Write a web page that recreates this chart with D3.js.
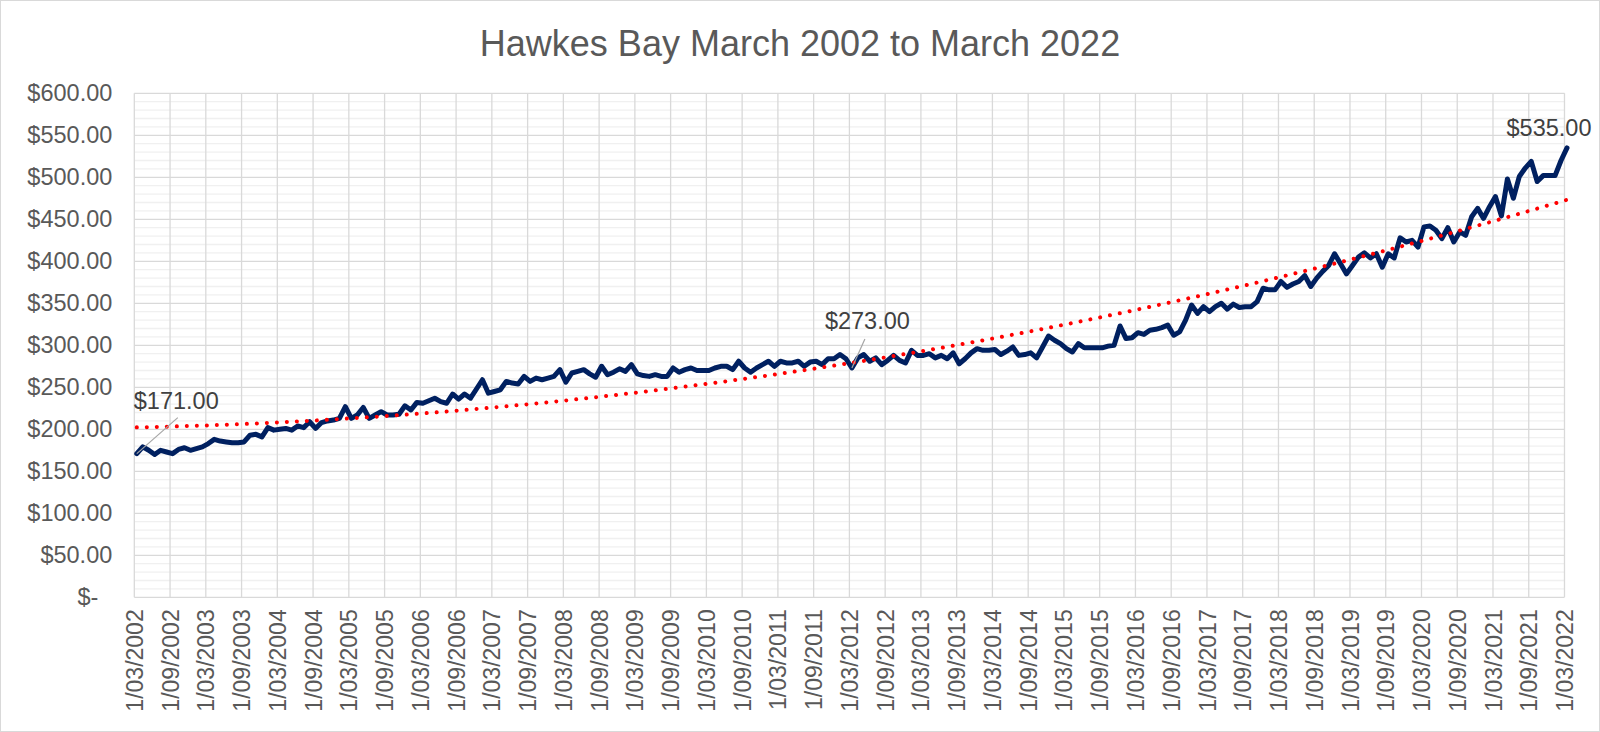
<!DOCTYPE html>
<html>
<head>
<meta charset="utf-8">
<script src="https://cdn.jsdelivr.net/npm/d3@7"></script>
<style>
  html, body { margin: 0; padding: 0; background: #fff; }
  svg { display: block; }
  text { font-family: "Liberation Sans", Arial, sans-serif; }
</style>
</head>
<body>
<svg id="chart" width="1600" height="732"></svg>
<script>
// ---- data ----
const title = "Hawkes Bay March 2002 to March 2022";
const startYear = 2002, startMonth = 3; // monthly series starting 1/03/2002
const values = [
171,179,175,170,175,173,171,176,178,175,177,179,
183,188,186,185,184,184,185,193,194,191,202,199,
200,201,199,204,202,209,201,208,210,211,213,227,
213,217,226,213,217,221,217,217,218,228,223,232,
231,234,237,233,231,242,236,242,237,248,259,243,
245,247,257,255,254,263,257,261,259,261,263,271,
256,267,269,271,266,262,275,265,268,272,269,277,
266,264,263,265,263,263,273,268,271,273,270,270,
270,273,275,275,271,281,273,268,273,277,281,275,
281,279,279,281,275,280,281,277,284,284,289,284,
273,285,289,281,285,277,282,288,282,279,294,288,
288,290,285,288,284,291,278,284,291,296,294,294,
295,289,293,298,288,289,291,285,298,311,306,302,
296,292,302,297,297,297,297,299,300,323,308,309,
315,313,318,319,321,324,312,316,330,348,338,346,
340,346,350,343,349,345,346,346,352,368,366,366,
376,369,373,376,383,370,380,388,395,409,397,385,
395,405,410,404,409,393,409,404,428,423,425,417,
441,442,437,427,440,423,435,431,453,463,451,465,
477,454,498,475,501,511,519,495,502,502,502,520,
535
];
const yTicks = [0,50,100,150,200,250,300,350,400,450,500,550,600];
const labelledIdx = [0, 120, 240];

// ---- helpers ----
const pad2 = n => (n < 10 ? "0" : "") + n;
function monthLabel(i) {
  const m0 = startMonth - 1 + i;
  const y = startYear + Math.floor(m0 / 12);
  const m = (m0 % 12) + 1;
  return "1/" + pad2(m) + "/" + y;
}
const tickIdx = d3.range(0, values.length, 6);
const money = v => v === 0 ? "$-" : "$" + d3.format(",.2f")(v);

// ---- layout ----
const svg = d3.select("#chart");
const L = 134.3, R = 1564.5, T = 93.3, B = 597.3;
const x = d3.scaleLinear().domain([0, values.length - 1]).range([L, R]);
const y = d3.scaleLinear().domain([0, 600]).range([B, T]);

svg.append("rect").attr("x", 0.5).attr("y", 0.5).attr("width", 1599).attr("height", 731)
  .attr("fill", "#fff").attr("stroke", "#d9d9d9").attr("stroke-width", 1);

// title
svg.append("text").attr("x", 800).attr("y", 56).attr("text-anchor", "middle")
  .attr("font-size", 36).attr("fill", "#595959").text(title);

// minor horizontal gridlines
svg.append("g").selectAll("line").data(d3.range(0, 601, 10).filter(v => v % 50 !== 0))
  .join("line")
  .attr("x1", L).attr("x2", R).attr("y1", d => y(d)).attr("y2", d => y(d))
  .attr("stroke", "#f0f0f0").attr("stroke-width", 1.3);

// major horizontal gridlines
svg.append("g").selectAll("line").data(yTicks).join("line")
  .attr("x1", L).attr("x2", R).attr("y1", d => y(d)).attr("y2", d => y(d))
  .attr("stroke", "#d9d9d9").attr("stroke-width", 1.3);

// vertical gridlines
svg.append("g").selectAll("line").data(tickIdx).join("line")
  .attr("x1", d => x(d)).attr("x2", d => x(d)).attr("y1", T).attr("y2", B)
  .attr("stroke", "#d9d9d9").attr("stroke-width", 1.3);

// y axis
const yAxis = svg.append("g").attr("transform", `translate(${L},0)`)
  .call(d3.axisLeft(y).tickValues(yTicks).tickFormat(money).tickSize(0).tickPadding(22));
yAxis.select(".domain").remove();
yAxis.selectAll("text").attr("font-size", 23.5).attr("fill", "#595959")
  .attr("font-family", "'Liberation Sans', Arial, sans-serif");
yAxis.selectAll(".tick").filter(d => d === 0).select("text").attr("dx", -14);

// x axis
const xAxis = svg.append("g").attr("transform", `translate(0,${B})`)
  .call(d3.axisBottom(x).tickValues(tickIdx).tickFormat(monthLabel).tickSize(0));
xAxis.select(".domain").remove();
xAxis.selectAll("text")
  .attr("font-size", 23).attr("fill", "#595959")
  .attr("font-family", "'Liberation Sans', Arial, sans-serif")
  .attr("transform", "rotate(-90)")
  .attr("text-anchor", "end")
  .attr("x", -12).attr("y", 0).attr("dy", "0.35em");

// trend line (2nd order polynomial least squares)
let S = [0,0,0,0,0], Sy = [0,0,0];
values.forEach((v, i) => {
  const t = i + 1;
  for (let k = 0; k < 5; k++) S[k] += Math.pow(t, k);
  for (let k = 0; k < 3; k++) Sy[k] += v * Math.pow(t, k);
});
function solve3(A, b) {
  const M = A.map((r, i) => r.concat([b[i]]));
  for (let c = 0; c < 3; c++) {
    let p = c;
    for (let r = c + 1; r < 3; r++) if (Math.abs(M[r][c]) > Math.abs(M[p][c])) p = r;
    [M[c], M[p]] = [M[p], M[c]];
    for (let r = 0; r < 3; r++) if (r !== c) {
      const f = M[r][c] / M[c][c];
      for (let k = c; k < 4; k++) M[r][k] -= f * M[c][k];
    }
  }
  return M.map((r, i) => r[3] / r[i]);
}
const coef = solve3([[S[0],S[1],S[2]],[S[1],S[2],S[3]],[S[2],S[3],S[4]]], Sy);
const trend = values.map((_, i) => coef[0] + coef[1]*(i+1) + coef[2]*(i+1)*(i+1));

const lineG = svg.append("g").attr("transform", "translate(2.5,0)");
const lineGen = d3.line().x((d, i) => x(i)).y(d => y(d));

lineG.append("path").datum(values).attr("d", lineGen)
  .attr("fill", "none").attr("stroke", "#002060").attr("stroke-width", 5)
  .attr("stroke-linejoin", "round").attr("stroke-linecap", "round");

lineG.append("path").datum(trend).attr("d", lineGen)
  .attr("fill", "none").attr("stroke", "#ff0000").attr("stroke-width", 4)
  .attr("stroke-linecap", "round").attr("stroke-dasharray", "0.01 10");

// data labels
const lblOff = {0: {dx: -3, dy: -45, anchor: "start", leader: [41, -36]},
                120: {dx: -27, dy: -39, anchor: "start", leader: [13, -29]},
                240: {dx: -18, dy: -12, anchor: "middle", leader: null}};
labelledIdx.forEach(i => {
  const o = lblOff[i];
  const px = x(i), py = y(values[i]);
  if (o.leader) {
    lineG.append("line").attr("x1", px).attr("y1", py)
      .attr("x2", px + o.leader[0]).attr("y2", py + o.leader[1])
      .attr("stroke", "#a6a6a6").attr("stroke-width", 1.2);
  }
  lineG.append("text").attr("x", px + o.dx).attr("y", py + o.dy)
    .attr("text-anchor", o.anchor).attr("font-size", 23.5).attr("fill", "#404040")
    .text(money(values[i]));
});
</script>
</body>
</html>
